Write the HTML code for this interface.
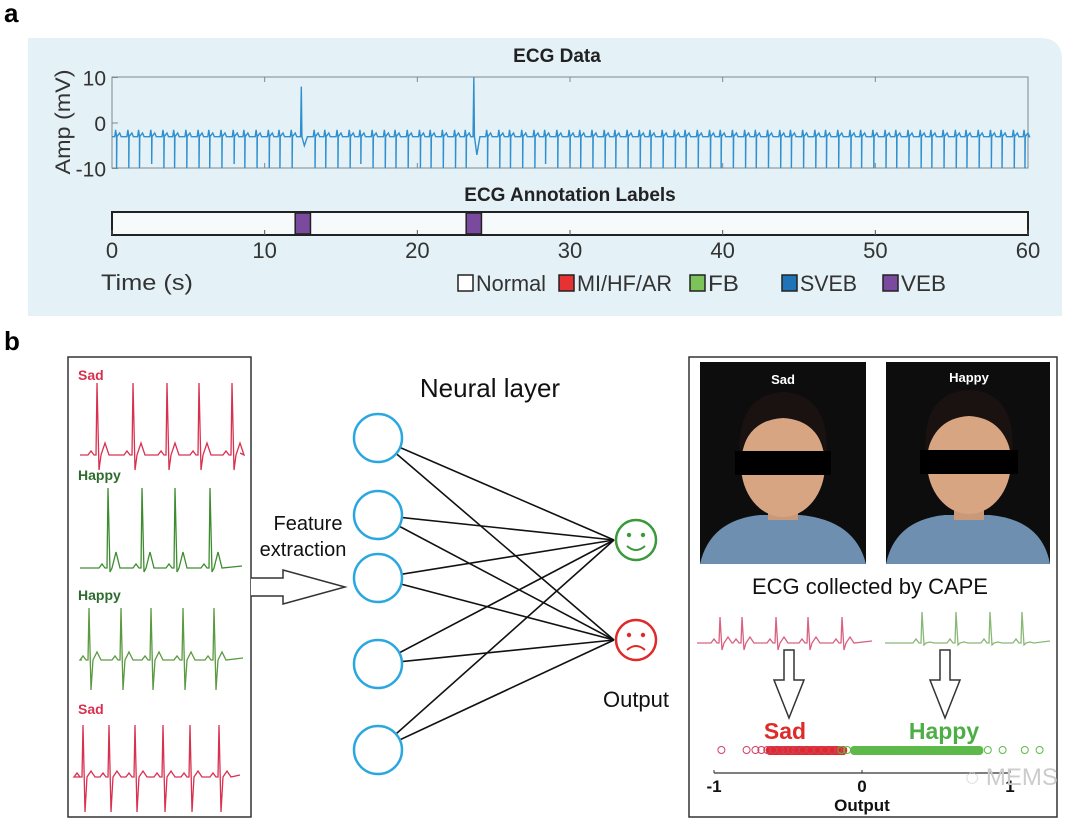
<!DOCTYPE html>
<html><head><meta charset="utf-8">
<style>
body{margin:0;background:#fff;width:1080px;height:822px;overflow:hidden;font-family:"Liberation Sans",sans-serif;}
svg{display:block}
</style></head>
<body>
<svg id="fig" width="1080" height="822" viewBox="0 0 1080 822" xmlns="http://www.w3.org/2000/svg" font-family="Liberation Sans, sans-serif">
<text x="4" y="22" font-size="26" font-weight="bold">a</text>
<path d="M28,38 H1040 Q1062,38 1062,60 V316 H28 Z" fill="#e4f1f6"/>
<text x="557" y="62" font-size="19" font-weight="bold" text-anchor="middle" fill="#222">ECG Data</text>
<rect x="112" y="77" width="916" height="91" fill="none" stroke="#7b8a90" stroke-width="1"/>
<g id="ecgY"></g>
<text transform="translate(70,122) rotate(-90)" font-size="21" text-anchor="middle" fill="#333" textLength="105" lengthAdjust="spacingAndGlyphs">Amp (mV)</text>
<path id="ecgLine" fill="none" stroke="#2f8fcf" stroke-width="1.4"/>
<text x="570" y="201" font-size="19" font-weight="bold" text-anchor="middle" fill="#222">ECG Annotation Labels</text>
<rect x="112" y="212" width="916" height="23" fill="#f6fafb" stroke="#222" stroke-width="2"/>
<g id="annot"></g>
<g id="xticks"></g>
<text x="101" y="290" font-size="22" fill="#333" textLength="92" lengthAdjust="spacingAndGlyphs">Time (s)</text>
<g id="legend"></g>

<text x="4" y="350" font-size="26" font-weight="bold">b</text>
<rect x="68" y="357" width="183" height="460" fill="#fff" stroke="#333" stroke-width="1.5"/>
<g id="mini"></g>
<text x="78" y="380" font-size="14" font-weight="bold" fill="#d9304f">Sad</text>
<text x="78" y="480" font-size="14" font-weight="bold" fill="#2e6b2e">Happy</text>
<text x="78" y="600" font-size="14" font-weight="bold" fill="#2e6b2e">Happy</text>
<text x="78" y="714" font-size="14" font-weight="bold" fill="#d9304f">Sad</text>
<path d="M251,578 H283 V570 L345,587 L283,604 V596 H251" fill="#fff" stroke="#333" stroke-width="1.5"/>
<text x="308" y="530" font-size="20" text-anchor="middle" fill="#111">Feature</text>
<text x="303" y="556" font-size="20" text-anchor="middle" fill="#111">extraction</text>
<text x="490" y="397" font-size="26" text-anchor="middle" fill="#111">Neural layer</text>
<g id="net"></g>
<text x="636" y="707" font-size="22" text-anchor="middle" fill="#111">Output</text>

<rect x="689" y="357" width="368" height="460" fill="#fff" stroke="#333" stroke-width="1.5"/>
<g>
<rect x="700" y="362" width="166" height="202" fill="#0d0d0d"/>
<path d="M700,564 Q710,520 760,515 L800,515 Q855,520 866,564 Z" fill="#6e8fb0"/>
<rect x="768" y="490" width="30" height="30" fill="#c99a7a"/>
<ellipse cx="783" cy="465" rx="42" ry="52" fill="#d8a583"/>
<path d="M740,460 Q735,395 783,392 Q832,395 826,460 Q820,420 783,418 Q746,420 740,460Z" fill="#1a1210"/>
<rect x="735" y="451" width="96" height="24" fill="#000"/>
<text x="783" y="384" font-size="13" font-weight="bold" fill="#fff" text-anchor="middle">Sad</text>
</g>
<g>
<rect x="886" y="362" width="164" height="202" fill="#0d0d0d"/>
<path d="M886,564 Q895,520 945,515 L990,515 Q1042,520 1050,564 Z" fill="#6e8fb0"/>
<rect x="954" y="490" width="30" height="30" fill="#c99a7a"/>
<ellipse cx="969" cy="462" rx="42" ry="52" fill="#d8a583"/>
<path d="M926,458 Q920,392 969,390 Q1018,392 1012,458 Q1005,418 969,416 Q933,418 926,458Z" fill="#1a1210"/>
<rect x="920" y="450" width="98" height="24" fill="#000"/>
<text x="969" y="382" font-size="13" font-weight="bold" fill="#fff" text-anchor="middle">Happy</text>
</g>
<text x="870" y="594" font-size="22" text-anchor="middle" fill="#111">ECG collected by CAPE</text>
<g id="cape"></g>
<path d="M784,650 H794 V680 H804 L789,718 L774,680 H784 Z" fill="#fff" stroke="#333" stroke-width="1.5"/>
<path d="M940,650 H950 V680 H960 L945,718 L930,680 H940 Z" fill="#fff" stroke="#333" stroke-width="1.5"/>
<text x="785" y="739" font-size="23" font-weight="bold" fill="#e02a2a" text-anchor="middle">Sad</text>
<text x="944" y="739" font-size="23" font-weight="bold" fill="#4cae45" text-anchor="middle">Happy</text>
<g id="dots"></g>
<g id="outAxis"></g>
<text x="862" y="811" font-size="17" font-weight="bold" text-anchor="middle" fill="#111">Output</text>
<text x="965" y="785" font-size="24" fill="#ccc">◌ MEMS</text>
</svg>
<script>
// ---- ECG data (panel a) ----
const normalBeats=[0.3,1.1,1.8,2.6,3.4,4.1,4.9,5.7,6.4,7.2,8.0,8.7,9.5,10.3,11.0,11.8,13.3,14.0,14.8,15.6,16.3,17.1,17.9,18.6,19.4,20.2,20.9,21.7,22.5,23.2,24.6,25.4,26.1,26.9,27.7,28.4,29.2,30.0,30.7,31.5,32.3,33.0,33.8,34.6,35.3,36.1,36.9,37.6,38.4,39.2,39.9,40.7,41.5,42.2,43.0,43.8,44.5,45.3,46.1,46.8,47.6,48.4,49.1,49.9,50.7,51.4,52.2,53.0,53.7,54.5,55.3,56.0,56.8,57.6,58.3,59.1,59.8];
const beatDepth=[-10,-10,-10,-9,-10,-10,-10,-10,-10,-10,-9,-10,-10,-10,-10,-10,-10,-10,-10,-10,-9,-10,-10,-10,-10,-10,-10,-10,-10,-10,-10,-10,-10,-10,-10,-9,-10,-10,-10,-10,-10,-10,-10,-10,-10,-10,-10,-10,-10,-10,-10,-10,-10,-10,-10,-10,-10,-10,-10,-10,-10,-10,-10,-10,-10,-10,-10,-10,-10,-10,-10,-10,-10,-10,-10,-10,-10];
const vebTimes=[12.4,23.7];
const vebPeaks=[8,10];
const vebTroughs=[-5,-7];
const annotStart=[12.0,23.2];
const annotEnd=[13.0,24.2];
const xTickLabels=[0,10,20,30,40,50,60];
const yTickLabels=[10,0,-10];
const baseline=-3;

const X=t=>112+t/60*916;
const Y=v=>123-v*4.55;
const svgNS="http://www.w3.org/2000/svg";
function mk(tag,attrs,parent){const e=document.createElementNS(svgNS,tag);for(const k in attrs)e.setAttribute(k,attrs[k]);parent.appendChild(e);return e;}

let evts=[];
normalBeats.forEach((t,i)=>evts.push({t,type:'n',d:beatDepth[i]}));
vebTimes.forEach((t,i)=>evts.push({t,type:'v',p:vebPeaks[i],q:vebTroughs[i]}));
evts.sort((a,b)=>a.t-b.t);
let d=`M${X(0)},${Y(baseline)}`;
evts.forEach(e=>{
 if(e.type==='n'){
  d+=` L${X(e.t-0.12)},${Y(baseline)} L${X(e.t-0.06)},${Y(baseline+1.5)} L${X(e.t)},${Y(baseline)} L${X(e.t)},${Y(e.d)} L${X(e.t+0.02)},${Y(baseline)} L${X(e.t+0.2)},${Y(baseline+0.8)} L${X(e.t+0.3)},${Y(baseline)}`;
 } else {
  d+=` L${X(e.t-0.05)},${Y(baseline)} L${X(e.t)},${Y(e.p)} L${X(e.t+0.04)},${Y(baseline)} L${X(e.t+0.2)},${Y(e.q)} L${X(e.t+0.4)},${Y(baseline)}`;
 }
});
d+=` L${X(60)},${Y(baseline)}`;
document.getElementById('ecgLine').setAttribute('d',d);

const gy=document.getElementById('ecgY');
yTickLabels.forEach(v=>{
 const t=mk('text',{x:106,y:Y(v)+8,'font-size':21,'text-anchor':'end',fill:'#333'},gy);t.textContent=v;
 
 
 mk('line',{x1:112,x2:118,y1:Y(v),y2:Y(v),stroke:'#7b8a90'},gy);
});
const ga=document.getElementById('annot');
annotStart.forEach((s,i)=>{
 const r=mk('rect',{x:X(s),y:213,width:X(annotEnd[i])-X(s),height:21,fill:'#7a4a9e',stroke:'#222','stroke-width':1.5},ga);
 
 
});
const gx=document.getElementById('xticks');
xTickLabels.forEach(v=>{
 mk('line',{x1:X(v),x2:X(v),y1:235,y2:230,stroke:'#555'},gx);
 mk('line',{x1:X(v),x2:X(v),y1:77,y2:82,stroke:'#7b8a90'},gx);
 mk('line',{x1:X(v),x2:X(v),y1:168,y2:163,stroke:'#7b8a90'},gx);
 const t=mk('text',{x:X(v),y:258,'font-size':22,'text-anchor':'middle',fill:'#333'},gx);t.textContent=v;
 
 
});
const legendNames=['Normal','MI/HF/AR','FB','SVEB','VEB'];
const legendColors=['#ffffff','#e63232','#7cc35a','#1f73b7','#7a4a9e'];
const legendX=[458,559,690,782,883];
const legendW=[70,95,31,57,45];
const gl=document.getElementById('legend');
legendNames.forEach((n,i)=>{
 mk('rect',{x:legendX[i],y:275,width:15,height:16,fill:legendColors[i],stroke:'#222','stroke-width':1.5},gl);
 const t=mk('text',{x:legendX[i]+18,y:291,'font-size':22,fill:'#333',textLength:legendW[i],lengthAdjust:'spacingAndGlyphs'},gl);t.textContent=n;
 
 
});

function trace(parent,peaksX,base,top,dip,color,x0,x1,tw){
 let p=`M${x0},${base}`;
 peaksX.forEach(px=>{p+=` L${px-9},${base} L${px-6},${base-4} L${px-3},${base} L${px-1},${base} L${px},${top} L${px+2},${dip} L${px+4},${base} L${px+8},${base-tw} L${px+12},${base}`;});
 p+=` L${x1},${base-2}`;
 const e=mk('path',{d:p,fill:'none',stroke:color,'stroke-width':1.3},parent);
 
 
}
const gm=document.getElementById('mini');
trace(gm,[97,133,167,199,232],455,383,470,'#d9304f',80,240,12);
trace(gm,[108,142,175,210],568,488,572,'#3d8c2f',80,242,16);
trace(gm,[89,121,151,183,214],660,608,690,'#5a9a40',82,243,8);
trace(gm,[83,109,135,163,190,219],777,725,812,'#d9304f',80,240,6);
const gc=document.getElementById('cape');
trace(gc,[720,742,776,808,842],643,617,650,'#d96080',697,872,6);
trace(gc,[922,956,990,1022],643,612,645,'#8ab878',885,1050,1);

const hiddenY=[438,515,578,664,750];
const outY=[540,640];
const gn=document.getElementById('net');
hiddenY.forEach(h=>outY.forEach(o=>mk('line',{x1:378,y1:h,x2:614,y2:o,stroke:'#111','stroke-width':1.6},gn)));
hiddenY.forEach(h=>{const c=mk('circle',{cx:378,cy:h,r:24,fill:'#fff',stroke:'#2aa7df','stroke-width':2.5},gn);
 
 });
const hc=mk('circle',{cx:636,cy:540,r:20,fill:'#fff',stroke:'#3a9a3a','stroke-width':2.5},gn);


mk('circle',{cx:629,cy:535,r:2.2,fill:'#3a9a3a'},gn);mk('circle',{cx:643,cy:535,r:2.2,fill:'#3a9a3a'},gn);
mk('path',{d:'M627,546 Q636,554 645,546',fill:'none',stroke:'#3a9a3a','stroke-width':2},gn);
const sc=mk('circle',{cx:636,cy:640,r:20,fill:'#fff',stroke:'#e02a2a','stroke-width':2.5},gn);


mk('circle',{cx:629,cy:635,r:2.2,fill:'#e02a2a'},gn);mk('circle',{cx:643,cy:635,r:2.2,fill:'#e02a2a'},gn);
mk('path',{d:'M627,650 Q636,642 645,650',fill:'none',stroke:'#e02a2a','stroke-width':2},gn);

const OX=v=>862+v*148;
const sadOutputs=[-0.95,-0.78,-0.72,-0.68,-0.64,-0.6,-0.55,-0.52,-0.48,-0.45,-0.4,-0.35,-0.3,-0.25,-0.2,-0.16];
const happyOutputs=[-0.14,-0.1,-0.05,0.05,0.15,0.3,0.45,0.6,0.75,0.85,0.95,1.1,1.2];
const sadBandStart=-0.65, sadBandEnd=-0.1, happyBandStart=-0.08, happyBandEnd=0.82;
const g=document.getElementById('dots');
mk('rect',{x:OX(sadBandStart),y:746,width:OX(sadBandEnd)-OX(sadBandStart),height:9,fill:'#e02a2a',rx:4},g);
mk('rect',{x:OX(happyBandStart),y:746,width:OX(happyBandEnd)-OX(happyBandStart),height:9,fill:'#5db94a',rx:4},g);
sadOutputs.forEach(v=>{const c=mk('circle',{cx:OX(v),cy:750,r:3.5,fill:'none',stroke:'#d04060','stroke-width':1},g);
 
 });
happyOutputs.forEach(v=>{const c=mk('circle',{cx:OX(v),cy:750,r:3.5,fill:'none',stroke:'#5db94a','stroke-width':1},g);
 
 });
const outTicks=[-1,0,1];
const go=document.getElementById('outAxis');
mk('line',{x1:OX(-1),x2:OX(1),y1:773,y2:773,stroke:'#333','stroke-width':1.2},go);
outTicks.forEach(v=>{mk('line',{x1:OX(v),x2:OX(v),y1:773,y2:770,stroke:'#333'},go);
 const t=mk('text',{x:OX(v),y:792,'font-size':17,'font-weight':'bold','text-anchor':'middle',fill:'#111'},go);t.textContent=v;
 
 });
</script>
</body></html>
